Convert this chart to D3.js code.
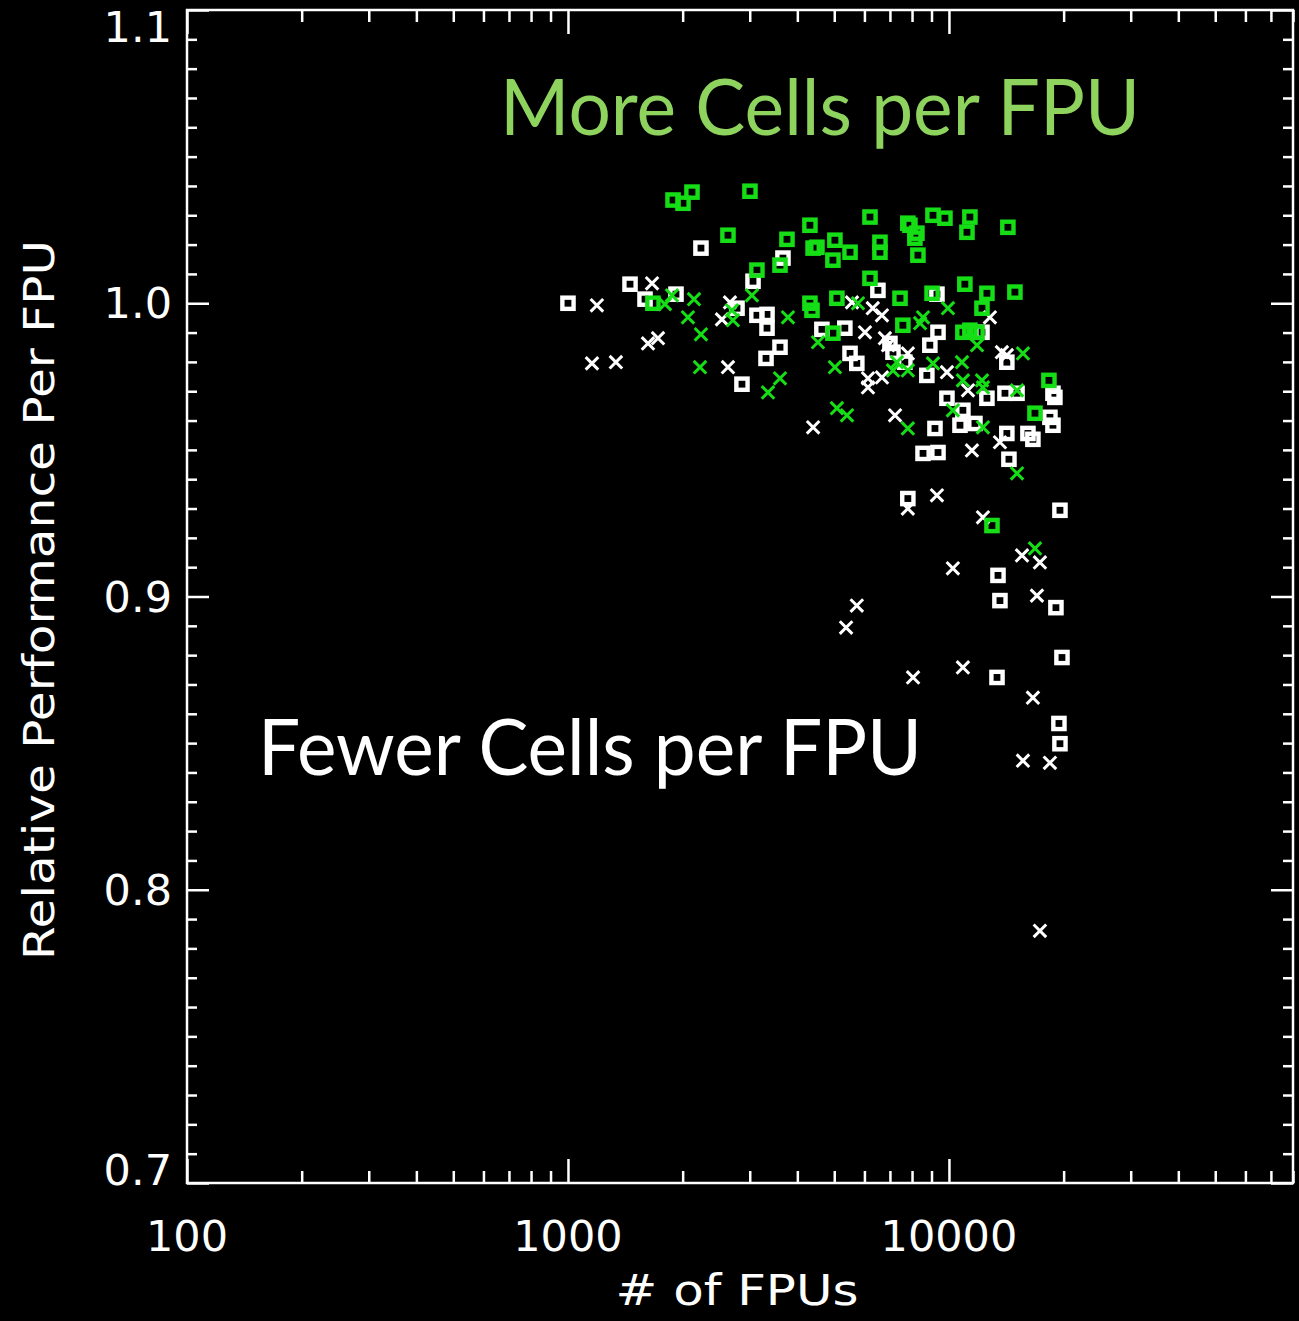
<!DOCTYPE html>
<html>
<head>
<meta charset="utf-8">
<script src="https://cdn.jsdelivr.net/npm/d3@7"></script>
<style>
  html, body { margin: 0; padding: 0; background: #000; }
  svg { display: block; }
</style>
</head>
<body>
<script>
// Relative per-FPU performance against FPU count, two runs per cell load.
// Each entry: [number of FPUs, relative performance per FPU]
const greenSquares = [
  [1887,1.0352],[2004,1.0341],[2116,1.0379],[3004,1.0382],[2630,1.0232],[3757,1.0218],
  [4316,1.0266],[4400,1.0188],[4503,1.0191],[5020,1.0215],[4960,1.0147],[3133,1.0113],
  [3602,1.0130],[1671,1.0000],[4316,1.0000],[4370,0.9976],[5080,1.0017],[4960,0.9898],
  [6205,1.0294],[7800,1.0273],[9080,1.0300],[9760,1.0290],[11350,1.0294],[11150,1.0242],
  [14280,1.0259],[5500,1.0174],[6590,1.0208],[6590,1.0174],[7900,1.0266],[8240,1.0239],
  [8140,1.0222],[8290,1.0164],[6205,1.0085],[7440,1.0017],[9030,1.0034],[11010,1.0065],
  [12580,1.0034],[14900,1.0038],[12210,0.9983],[7570,0.9925],[10880,0.9901],[11350,0.9908],
  [11850,0.9901],[18300,0.9737],[16820,0.9625],[12970,0.9242]
];
const greenCrosses = [
  [1875,1.0027],[1797,0.9997],[2142,1.0014],[2065,0.9952],[2234,0.9894],[2221,0.9782],
  [2694,0.9976],[2710,0.9942],[3040,1.0027],[3780,0.9952],[3602,0.9744],[3350,0.9696],
  [4530,0.9867],[5020,0.9782],[5080,0.9642],[5400,0.9618],[5770,1.0000],[9940,0.9983],
  [8550,0.9952],[8400,0.9932],[11850,0.9857],[15640,0.9829],[10820,0.9799],[7300,0.9799],
  [7800,0.9771],[7130,0.9771],[9080,0.9795],[10880,0.9737],[12210,0.9737],[12280,0.9713],
  [15090,0.9703],[7800,0.9573],[10240,0.9635],[12280,0.9577],[15090,0.9420],[16820,0.9164]
];
const whiteSquares = [
  [1000,1.0000],[1455,1.0065],[1593,1.0014],[1921,1.0031],[2234,1.0188],[3667,1.0154],
  [3060,1.0075],[2778,0.9983],[3133,0.9959],[3330,0.9962],[3330,0.9915],[3602,0.9850],
  [3310,0.9812],[2862,0.9724],[4640,0.9911],[5330,0.9915],[6510,1.0044],[9300,1.0031],
  [9360,0.9901],[8910,0.9857],[5500,0.9829],[5730,0.9795],[7000,0.9863],[7130,0.9833],
  [7660,0.9799],[8750,0.9754],[14190,0.9799],[12210,0.9901],[14030,0.9693],[15090,0.9693],
  [12580,0.9676],[18750,0.9693],[18970,0.9679],[18410,0.9611],[18750,0.9584],[10880,0.9635],
  [9190,0.9573],[10690,0.9584],[11700,0.9590],[14190,0.9556],[16120,0.9556],[16610,0.9536],
  [14370,0.9468],[8550,0.9488],[9360,0.9491],[7800,0.9334],[19560,0.9294],[13450,0.9072],
  [13610,0.8986],[19090,0.8962],[19800,0.8792],[13370,0.8724],[19440,0.8567],[19560,0.8498],
  [9880,0.9676]
];
const whiteCrosses = [
  [1191,0.9993],[1662,1.0068],[1723,0.9881],[1622,0.9863],[1156,0.9795],[1336,0.9799],
  [2630,0.9782],[2662,1.0003],[2536,0.9945],[5565,1.0003],[6310,0.9983],[6670,0.9959],
  [6020,0.9901],[6790,0.9881],[6920,0.9857],[7800,0.9829],[6130,0.9744],[6130,0.9713],
  [6670,0.9747],[9880,0.9765],[12810,0.9952],[13770,0.9833],[14190,0.9823],[11220,0.9703],
  [7220,0.9618],[4400,0.9577],[11490,0.9498],[13610,0.9526],[9300,0.9345],[7800,0.9300],
  [12280,0.9270],[15550,0.9140],[17330,0.9116],[10240,0.9096],[17020,0.9003],[5730,0.8969],
  [5370,0.8894],[10880,0.8758],[8050,0.8724],[16610,0.8655],[15640,0.8440],[18410,0.8433],
  [17330,0.7860]
];

const xMajorTicks = [100, 1000, 10000];
const xTickLabels = ["100", "1000", "10000"];
const yMajorTicks = [0.7, 0.8, 0.9, 1.0, 1.1];
const yTickLabels = ["0.7", "0.8", "0.9", "1.0", "1.1"];
const xDomain = [100, 80000];
const yDomain = [0.7, 1.1];

const W = 1299, H = 1321;
const plot = { left: 187, right: 1293, top: 10, bottom: 1183 };
const GREEN = "rgb(22,222,22)";
const WHITE = "#ffffff";
const axisFont = "'DejaVu Sans', sans-serif";

const svg = d3.select("body").append("svg")
  .attr("width", W).attr("height", H)
  .style("background", "#000");

const x = d3.scaleLog().domain(xDomain).range([plot.left, plot.right]);
const y = d3.scaleLinear().domain(yDomain).range([plot.bottom, plot.top]);

// minor tick values
const xMinor = [];
for (let dec = 100; dec < 100000; dec *= 10) {
  for (let k = 2; k <= 9; k++) {
    const v = dec * k;
    if (v <= xDomain[1]) xMinor.push(v);
  }
}
const yMinor = d3.range(70, 111).map(d => d / 100).filter(v => !yMajorTicks.some(m => Math.abs(m - v) < 1e-9));

function styleAxis(g) {
  g.select(".domain").remove();
  g.selectAll("line").attr("stroke", WHITE).attr("stroke-width", 2.5);
  g.selectAll("text").remove();
}

// bottom & top x ticks (inward)
svg.append("g").attr("transform", `translate(0,${plot.bottom})`)
  .call(d3.axisBottom(x).tickValues(xMinor).tickSize(-12).tickFormat("")).call(styleAxis);
svg.append("g").attr("transform", `translate(0,${plot.bottom})`)
  .call(d3.axisBottom(x).tickValues(xMajorTicks).tickSize(-24).tickFormat("")).call(styleAxis);
svg.append("g").attr("transform", `translate(0,${plot.top})`)
  .call(d3.axisTop(x).tickValues(xMinor).tickSize(-12).tickFormat("")).call(styleAxis);
svg.append("g").attr("transform", `translate(0,${plot.top})`)
  .call(d3.axisTop(x).tickValues(xMajorTicks).tickSize(-24).tickFormat("")).call(styleAxis);

// left & right y ticks (inward)
svg.append("g").attr("transform", `translate(${plot.left},0)`)
  .call(d3.axisLeft(y).tickValues(yMinor).tickSize(-10).tickFormat("")).call(styleAxis);
svg.append("g").attr("transform", `translate(${plot.left},0)`)
  .call(d3.axisLeft(y).tickValues(yMajorTicks).tickSize(-22).tickFormat("")).call(styleAxis);
svg.append("g").attr("transform", `translate(${plot.right},0)`)
  .call(d3.axisRight(y).tickValues(yMinor).tickSize(-10).tickFormat("")).call(styleAxis);
svg.append("g").attr("transform", `translate(${plot.right},0)`)
  .call(d3.axisRight(y).tickValues(yMajorTicks).tickSize(-22).tickFormat("")).call(styleAxis);

// frame
svg.append("rect")
  .attr("x", plot.left).attr("y", plot.top)
  .attr("width", plot.right - plot.left).attr("height", plot.bottom - plot.top)
  .attr("fill", "none").attr("stroke", WHITE).attr("stroke-width", 2.5);

// tick labels
svg.append("g").selectAll("text").data(xMajorTicks).join("text")
  .attr("x", d => x(d)).attr("y", 1251)
  .attr("text-anchor", "middle")
  .attr("fill", WHITE).attr("font-family", axisFont).attr("font-size", 43)
  .text((d, i) => xTickLabels[i]);

svg.append("g").selectAll("text").data(yMajorTicks).join("text")
  .attr("x", 172)
  .attr("y", (d, i) => {
    let yy = y(d) + 15;
    if (i === 0) yy -= 13;             // keep bottom label clear of x labels
    if (i === yMajorTicks.length - 1) yy += 17;  // keep top label inside the canvas
    return yy;
  })
  .attr("text-anchor", "end")
  .attr("fill", WHITE).attr("font-family", axisFont).attr("font-size", 43)
  .text((d, i) => yTickLabels[i]);

// axis titles
svg.append("text")
  .attr("x", 737).attr("y", 1305)
  .attr("text-anchor", "middle")
  .attr("fill", WHITE).attr("font-family", axisFont).attr("font-size", 43)
  .attr("textLength", 243).attr("lengthAdjust", "spacingAndGlyphs")
  .text("# of FPUs");

svg.append("text")
  .attr("transform", "translate(54,600) rotate(-90)")
  .attr("text-anchor", "middle")
  .attr("fill", WHITE).attr("font-family", axisFont).attr("font-size", 43)
  .attr("textLength", 720).attr("lengthAdjust", "spacingAndGlyphs")
  .text("Relative Performance Per FPU");

// markers
const markers = svg.append("g");
function drawSquares(data, color) {
  const s = 5.6;
  markers.append("g").selectAll("rect").data(data).join("rect")
    .attr("x", d => x(d[0]) - s).attr("y", d => y(d[1]) - s)
    .attr("width", 2 * s).attr("height", 2 * s)
    .attr("fill", "none").attr("stroke", color).attr("stroke-width", 4.4);
}
function drawCrosses(data, color) {
  const s = 6.3;
  markers.append("g").selectAll("path").data(data).join("path")
    .attr("d", d => {
      const cx = x(d[0]), cy = y(d[1]);
      return `M${cx - s},${cy - s}L${cx + s},${cy + s}M${cx - s},${cy + s}L${cx + s},${cy - s}`;
    })
    .attr("fill", "none").attr("stroke", color).attr("stroke-width", 3);
}
drawSquares(whiteSquares, WHITE);
drawCrosses(whiteCrosses, WHITE);
drawCrosses(greenCrosses, GREEN);
drawSquares(greenSquares, GREEN);

// annotations
const noteFont = "'Gill Sans', Lato, 'Open Sans', sans-serif";
svg.append("text")
  .attr("x", 500).attr("y", 135)
  .attr("fill", "rgb(143,211,95)").attr("font-family", noteFont).attr("font-size", 78)
  .attr("textLength", 640).attr("lengthAdjust", "spacingAndGlyphs")
  .text("More Cells per FPU");
svg.append("text")
  .attr("x", 258).attr("y", 775)
  .attr("fill", WHITE).attr("font-family", noteFont).attr("font-size", 78)
  .attr("textLength", 664).attr("lengthAdjust", "spacingAndGlyphs")
  .text("Fewer Cells per FPU");
</script>
</body>
</html>
